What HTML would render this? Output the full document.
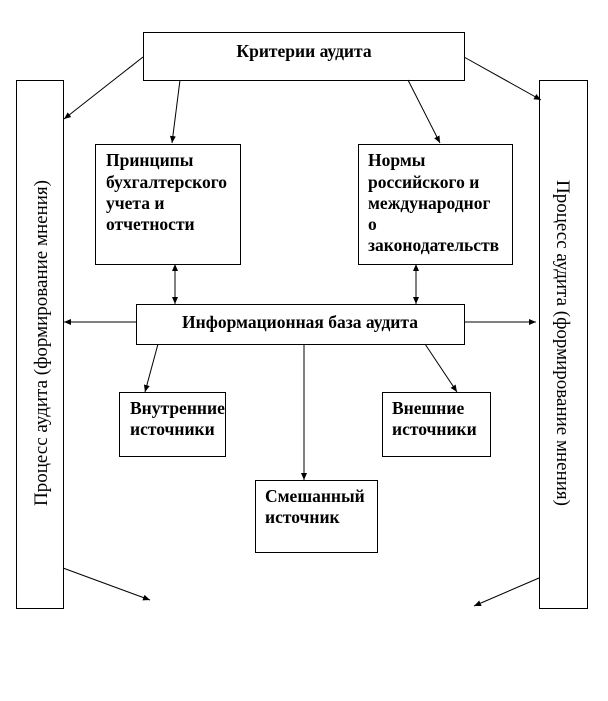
<!DOCTYPE html>
<html><head><meta charset="utf-8"><style>
body{margin:0;background:#fff;}
svg text{font-family:"Liberation Serif",serif;}
.b{font-weight:bold;font-size:17.5px;}
</style></head><body>
<svg width="608" height="696" xmlns="http://www.w3.org/2000/svg">
<defs><marker id="a" markerWidth="8" markerHeight="8" refX="7" refY="4" orient="auto" markerUnits="userSpaceOnUse"><path d="M0,1 L7,4 L0,7 Z" fill="#000"/></marker></defs>
<g fill="none" stroke="#000" stroke-width="1">
<rect x="143.5" y="32.5" width="321" height="48"/>
<rect x="16.5" y="80.5" width="47" height="528"/>
<rect x="539.5" y="80.5" width="48" height="528"/>
<rect x="95.5" y="144.5" width="145" height="120"/>
<rect x="358.5" y="144.5" width="154" height="120"/>
<rect x="136.5" y="304.5" width="328" height="40"/>
<rect x="119.5" y="392.5" width="106" height="64"/>
<rect x="382.5" y="392.5" width="108" height="64"/>
<rect x="255.5" y="480.5" width="122" height="72"/>
</g>
<g stroke="#000" stroke-width="1" marker-end="url(#a)">
<line x1="143" y1="57" x2="64" y2="119"/>
<line x1="180" y1="80" x2="172" y2="143"/>
<line x1="408" y1="80" x2="440" y2="143"/>
<line x1="464" y1="57" x2="541" y2="100"/>
<line x1="175" y1="284" x2="175" y2="304"/>
<line x1="175" y1="284" x2="175" y2="264"/>
<line x1="416" y1="284" x2="416" y2="304"/>
<line x1="416" y1="284" x2="416" y2="264"/>
<line x1="136" y1="322" x2="64" y2="322"/>
<line x1="464" y1="322" x2="536" y2="322"/>
<line x1="158" y1="344" x2="145" y2="392"/>
<line x1="304" y1="344" x2="304" y2="480"/>
<line x1="425" y1="344" x2="457" y2="392"/>
<line x1="63" y1="568" x2="150" y2="600"/>
<line x1="539" y1="578" x2="474" y2="606"/>
</g>
<text class="b" x="304" y="57" text-anchor="middle">Критерии аудита</text>
<text class="b" x="106" y="166">Принципы</text>
<text class="b" x="106" y="188">бухгалтерского</text>
<text class="b" x="106" y="209">учета и</text>
<text class="b" x="106" y="230">отчетности</text>
<text class="b" x="368" y="166">Нормы</text>
<text class="b" x="368" y="188">российского и</text>
<text class="b" x="368" y="209">международног</text>
<text class="b" x="368" y="230">о</text>
<text class="b" x="368" y="251">законодательств</text>
<text class="b" x="300" y="328" text-anchor="middle">Информационная база аудита</text>
<text class="b" x="130" y="414">Внутренние</text>
<text class="b" x="130" y="435">источники</text>
<text class="b" x="392" y="414">Внешние</text>
<text class="b" x="392" y="435">источники</text>
<text class="b" x="265" y="502">Смешанный</text>
<text class="b" x="265" y="523">источник</text>
<text font-size="19" transform="translate(47,343) rotate(-90)" text-anchor="middle">Процесс аудита (формирование мнения)</text>
<text font-size="19" transform="translate(557,343) rotate(90)" text-anchor="middle">Процесс аудита (формирование мнения)</text>
</svg>
</body></html>
